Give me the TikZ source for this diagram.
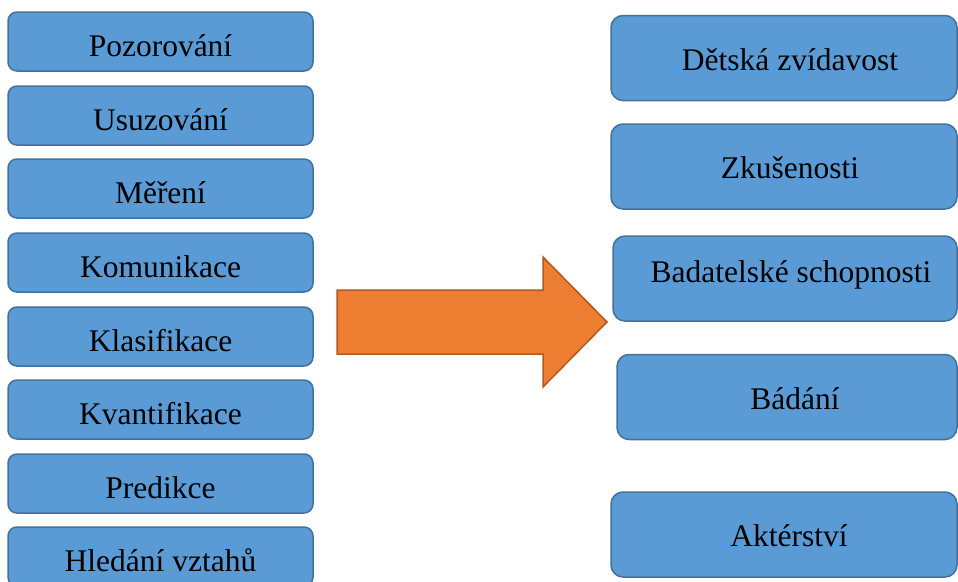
\documentclass[tikz,border=0pt]{standalone}
\usepackage{fontspec}
\setmainfont{Liberation Serif}
\definecolor{boxfill}{HTML}{5B9BD5}
\definecolor{boxline}{HTML}{41719C}
\definecolor{arrfill}{HTML}{ED7D31}
\definecolor{arrline}{HTML}{AE5A21}
\tikzset{
  base/.style={draw=boxline, fill=boxfill, line width=1.5pt, rectangle,
    inner sep=0pt, font=\fontsize{31.5}{36}\selectfont, text=black},
  lbox/.style={base, rounded corners=9pt, minimum width=305pt, minimum height=59pt,
    text height=29pt, text depth=0pt},
  rbox/.style={base, rounded corners=12pt, minimum height=85pt,
    text height=24pt, text depth=0pt},
  bigarrow/.style={draw=arrline, fill=arrfill, line width=1.5pt, line join=miter}
}
\begin{document}
\begin{tikzpicture}[x=1pt,y=-1pt]
\useasboundingbox (0,0) rectangle (958,581);
% left column
\node[lbox] (l1) at (160.5,41.5) {Pozorování};
\node[lbox] (l2) at (160.5,115.5) {Usuzování};
\node[lbox] (l3) at (160.5,188.5) {Měření};
\node[lbox] (l4) at (160.5,262.5) {Komunikace};
\node[lbox] (l5) at (160.5,336.5) {Klasifikace};
\node[lbox] (l6) at (160.5,409.5) {Kvantifikace};
\node[lbox] (l7) at (160.5,483.5) {Predikce};
\node[lbox] (l8) at (160.5,556.5) {Hledání vztahů};
% right column
\node[rbox, minimum width=346pt] (r1) at (784,58) {\hspace*{12pt}Dětská zvídavost};
\node[rbox, minimum width=346pt] (r2) at (784,166.5) {\hspace*{12pt}Zkušenosti};
\node[rbox, minimum width=344pt, text height=7pt] (r3) at (785,278.5) {\hspace*{12pt}Badatelské schopnosti};
\node[rbox, minimum width=340pt] (r4) at (787,397) {\hspace*{16pt}Bádání};
\node[rbox, minimum width=346pt] (r5) at (784,534.5) {\hspace*{10pt}Aktérství};
% big arrow
\draw[bigarrow] (337,290) -- (543,290) -- (543,257) -- (607,322) -- (543,387)
  -- (543,354) -- (337,354) -- cycle;
\end{tikzpicture}
\end{document}
